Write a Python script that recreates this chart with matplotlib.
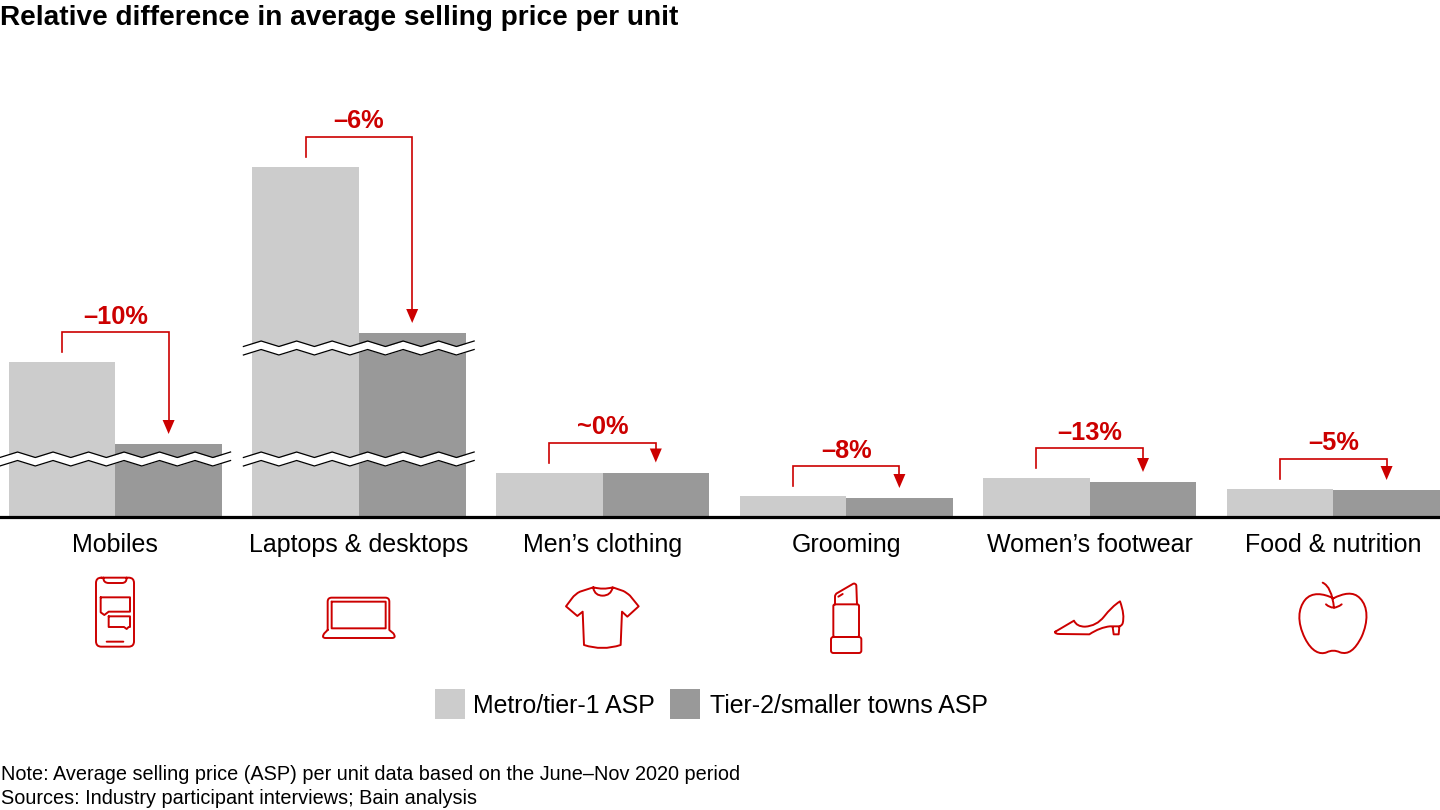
import numpy as np
import matplotlib
matplotlib.use('Agg')
import matplotlib.pyplot as plt
from matplotlib.path import Path
from matplotlib.patches import PathPatch, Polygon, Rectangle

plt.rcParams['font.family'] = ['Liberation Sans', 'DejaVu Sans']

categories = ['Mobiles', 'Laptops & desktops', 'Men\u2019s clothing', 'Grooming',
              'Women\u2019s footwear', 'Food & nutrition']
# bar heights as drawn, the chart has no value axis
metro_asp = [155, 350, 44, 21, 39, 28]
tier2_asp = [73, 184, 44.5, 19, 35, 27]
diff_labels = ['\u201310%', '\u20136%', '~0%', '\u20138%', '\u201313%', '\u20135%']
series_names = ['Metro/tier-1 ASP', 'Tier-2/smaller towns ASP']
# axis breaks, one list per category, height above baseline
break_levels = [[58], [58, 169], [], [], [], []]

title = 'Relative difference in average selling price per unit'
note = 'Note: Average selling price (ASP) per unit data based on the June\u2013Nov 2020 period'
sources = 'Sources: Industry participant interviews; Bain analysis'

LIGHT = '#cccccc'
DARK = '#999999'
RED = '#cc0000'
W, H = 1440, 810
BASE = 517   # baseline row in pixels
STEP = 243.6  # px between categories
X0 = 115.3   # px of first category
BAR = 106.6 / STEP

fig = plt.figure(figsize=(14.4, 8.1), dpi=100)
ax = fig.add_axes([0, 0, 1, 1])
ax.set_xlim(-X0 / STEP, (W - X0) / STEP)
ax.set_ylim(BASE - H, BASE)
ax.axis('off')
# overlay in pixels for icons and legend
ov = fig.add_axes([0, 0, 1, 1])
ov.set_xlim(0, W)
ov.set_ylim(H, 0)
ov.axis('off')
ov.patch.set_alpha(0)

x = np.arange(len(categories))
ax.bar(x - BAR / 2, metro_asp, BAR, color=LIGHT, linewidth=0)
ax.bar(x + BAR / 2, tier2_asp, BAR, color=DARK, linewidth=0)
ax.axhline(0, color='black', lw=2.3, zorder=5)


def draw_break(center, level):
    xs = center - 115.5 + np.arange(0, 14) * 17.75
    up = np.arange(len(xs)) % 2
    yc = BASE - level
    top = yc - 1.5 - up * 5.5
    bot = yc + 7 - up * 5.5
    ov.fill_between(xs, top, bot, color='white', lw=0, zorder=6)
    ov.plot(xs, top, color='black', lw=0.9, zorder=7)
    ov.plot(xs, bot, color='black', lw=0.9, zorder=7)


for i, levels in enumerate(break_levels):
    for level in levels:
        draw_break(X0 + STEP * i, level)

# brackets with arrow, placed relative to the bars
for i in range(len(categories)):
    start = metro_asp[i] + 10
    tip = tier2_asp[i] + 10
    top = start + 20
    x1, x2 = i - BAR / 2, i + BAR / 2
    ax.plot([x1, x1, x2, x2], [start, top, top, tip + 10], color=RED, lw=1.2,
            solid_joinstyle='miter', zorder=8)
    dx = 6 / STEP
    ax.add_patch(Polygon([(x2 - dx, tip + 14), (x2 + dx, tip + 14), (x2, tip)],
                         closed=True, color=RED, lw=0, zorder=8))
    ax.text(i, top + 15.5, diff_labels[i], color=RED, fontsize=18.3, fontweight='bold',
            ha='center', va='center')
    ax.text(i, BASE - 545, categories[i], fontsize=18, ha='center', va='center')


def make_path(cmds, x0, y0=565):
    # coordinates come from a 3x crop starting at x0, y0
    verts, codes = [], []
    for c in cmds:
        pts = [(x0 + c[j] / 3, y0 + c[j + 1] / 3) for j in range(1, len(c), 2)]
        if c[0] == 'M':
            codes.append(Path.MOVETO)
        elif c[0] == 'L':
            codes.append(Path.LINETO)
        elif c[0] == 'Q':
            codes += [Path.CURVE3] * 2
        elif c[0] == 'C':
            codes += [Path.CURVE4] * 3
        verts += pts
    return Path(verts, codes)


def rrect(a, b, c, d, r):
    return [('M', a + r, b), ('L', c - r, b), ('Q', c, b, c, b + r), ('L', c, d - r),
            ('Q', c, d, c - r, d), ('L', a + r, d), ('Q', a, d, a, d - r), ('L', a, b + r),
            ('Q', a, b, a + r, b)]


phone = rrect(108, 38, 222, 245, 16) + [
    ('M', 130, 38), ('Q', 130, 54, 146, 54), ('L', 186, 54), ('Q', 200, 54, 200, 38),
    ('M', 122, 97), ('L', 210, 97), ('L', 210, 140), ('L', 146, 140), ('L', 133, 150),
    ('L', 122, 142), ('L', 122, 97),
    ('M', 146, 154), ('L', 210, 154), ('L', 210, 186), ('L', 206, 186), ('L', 200, 192),
    ('L', 192, 186), ('L', 146, 186), ('L', 146, 154),
    ('M', 140, 230), ('L', 190, 230)]
laptop = [
    ('M', 803, 195), ('L', 803, 110), ('Q', 803, 98, 815, 98), ('L', 976, 98),
    ('Q', 988, 98, 988, 110), ('L', 988, 195), ('L', 1000, 205), ('Q', 1010, 219, 996, 219),
    ('L', 797, 219), ('Q', 783, 219, 793, 205), ('L', 803, 195),
    ('M', 815, 110), ('L', 977, 110), ('L', 977, 190), ('L', 815, 190), ('L', 815, 110)]
shirt = [
    ('M', 160, 67), ('L', 120, 80), ('Q', 105, 87, 96, 100), ('L', 78, 124), ('L', 112, 153),
    ('L', 128, 140), ('L', 132, 240), ('Q', 187, 258, 242, 240), ('L', 246, 140), ('L', 262, 155),
    ('L', 296, 124), ('L', 270, 92), ('Q', 260, 83, 250, 78), ('L', 218, 67),
    ('Q', 190, 75, 160, 67),
    ('M', 160, 70), ('Q', 165, 92, 188, 92), ('Q', 212, 92, 218, 68)]
lipstick = rrect(880, 118, 957, 216, 5) + rrect(873, 216, 964, 264, 7) + [
    ('M', 885, 118), ('L', 885, 95), ('Q', 885, 87, 892, 84), ('L', 940, 56),
    ('Q', 948, 54, 949, 62), ('L', 951, 118),
    ('M', 895, 95), ('L', 908, 87)]
shoe = [
    ('M', 76, 200), ('L', 132, 167), ('Q', 140, 185, 165, 185), ('Q', 200, 183, 222, 155),
    ('Q', 245, 125, 270, 109), ('Q', 285, 150, 278, 175), ('Q', 275, 183, 268, 184),
    ('L', 240, 184), ('Q', 210, 187, 178, 208), ('L', 90, 207), ('Q', 72, 207, 76, 200),
    ('M', 248, 186), ('L', 251, 208), ('L', 266, 208), ('L', 268, 185)]
apple = [
    ('M', 910, 100), ('C', 880, 85, 845, 80, 825, 105), ('C', 805, 130, 800, 170, 825, 220),
    ('C', 845, 260, 870, 270, 890, 262), ('Q', 910, 252, 930, 262),
    ('C', 955, 270, 975, 255, 995, 215), ('C', 1015, 170, 1015, 125, 990, 100),
    ('C', 970, 78, 940, 85, 910, 100),
    ('M', 878, 53), ('Q', 905, 65, 912, 128),
    ('M', 888, 118), ('Q', 910, 138, 935, 118)]

for cmds, x0 in [(phone, 60), (laptop, 60), (shirt, 540), (lipstick, 540), (shoe, 1030), (apple, 1030)]:
    ov.add_patch(PathPatch(make_path(cmds, x0), fill=False, edgecolor=RED, lw=1.4,
                           capstyle='round', joinstyle='round'))

# legend
for sx, col, tx, name in [(435, LIGHT, 473, series_names[0]), (670, DARK, 710, series_names[1])]:
    ov.add_patch(Rectangle((sx, 689), 30, 30, color=col, lw=0))
    ov.text(tx, 706, name, fontsize=17.95, ha='left', va='center')

ov.text(0, 18, title, fontsize=20.2, fontweight='bold', ha='left', va='center')
ov.text(1, 774, note, fontsize=14.3, ha='left', va='center')
ov.text(1, 798, sources, fontsize=14.3, ha='left', va='center')

fig.savefig('out.png', dpi=100)
